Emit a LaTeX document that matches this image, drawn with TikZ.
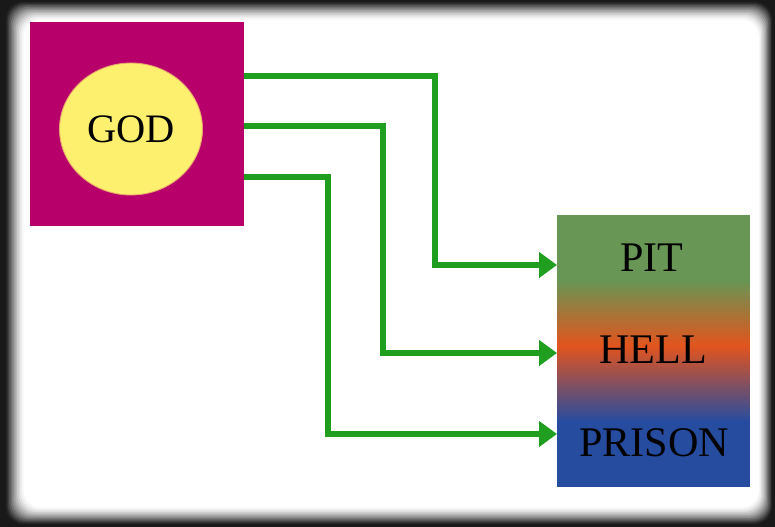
\documentclass[tikz,border=0pt]{standalone}
\usepackage{fontspec}
\setmainfont{Liberation Serif}
\usetikzlibrary{arrows.meta, shapes.geometric}

\definecolor{godred}{RGB}{184,0,106}
\definecolor{godyellow}{RGB}{253,240,110}
\definecolor{linkgreen}{RGB}{32,158,32}
\definecolor{pitgreen}{RGB}{104,150,84}
\definecolor{hellorange}{RGB}{226,84,30}
\definecolor{prisonblue}{RGB}{38,76,160}

\pgfdeclareverticalshading{underworld}{100bp}{%
  color(0bp)=(prisonblue); color(37bp)=(prisonblue);
  color(51bp)=(hellorange);
  color(63bp)=(pitgreen); color(100bp)=(pitgreen)}

\begin{document}
\begin{tikzpicture}[x = 0.02cm, y = -0.02cm,
                    link/.style = {draw = linkgreen, line width = 0.12cm,
                                   -{Triangle[length=0.36cm, width=0.5cm]}},
                    word/.style = {font = \fontsize{24}{27}\selectfont, text = black}]

\useasboundingbox (0,0) rectangle (775,527);

% dark frame round the slide
\fill[black!90] (0,0) rectangle (775,527);
\foreach \i/\c in {0/15,1/25,2/35,3/45,4/55,5/64,6/72,7/80,8/87,9/93,10/97,11/100}
  \fill[white!\c!black, rounded corners = 10] (6+\i*1.6,2+\i*1.6) rectangle (772-\i*1.2,524-\i*1.5);

% god
\node[fill = godred, minimum width = 4.28cm, minimum height = 4.08cm, inner sep = 0]
  (godbox) at (137,124) {};
\node[ellipse, fill = godyellow, draw = godyellow!70!godred, line width = 0.5pt,
      minimum width = 2.86cm, minimum height = 2.64cm, inner sep = 0]
  (godcircle) at (131,129) {};
\node[word, font = \fontsize{23}{26}\selectfont] (god) at (131,129) {GOD};

% pit, hell, prison
\node[shading = underworld, minimum width = 3.86cm, minimum height = 5.44cm, inner sep = 0]
  (under) at (653.5,351) {};
\node[word] (pit) at (652,258) {PIT};
\node[word] (hell) at (653,350) {HELL};
\node[word] (prison) at (654,443) {PRISON};

% connectors
\coordinate (out1) at (244,76);
\coordinate (out2) at (244,126);
\coordinate (out3) at (244,177);
\coordinate (bend1) at (435,265);
\coordinate (bend2) at (383,353);
\coordinate (bend3) at (328,434);
\coordinate (in1) at (557,265);
\coordinate (in2) at (557,353);
\coordinate (in3) at (557,434);

\draw[link] (out1) -| (bend1) -- (in1);
\draw[link] (out2) -| (bend2) -- (in2);
\draw[link] (out3) -| (bend3) -- (in3);

\end{tikzpicture}
\end{document}
